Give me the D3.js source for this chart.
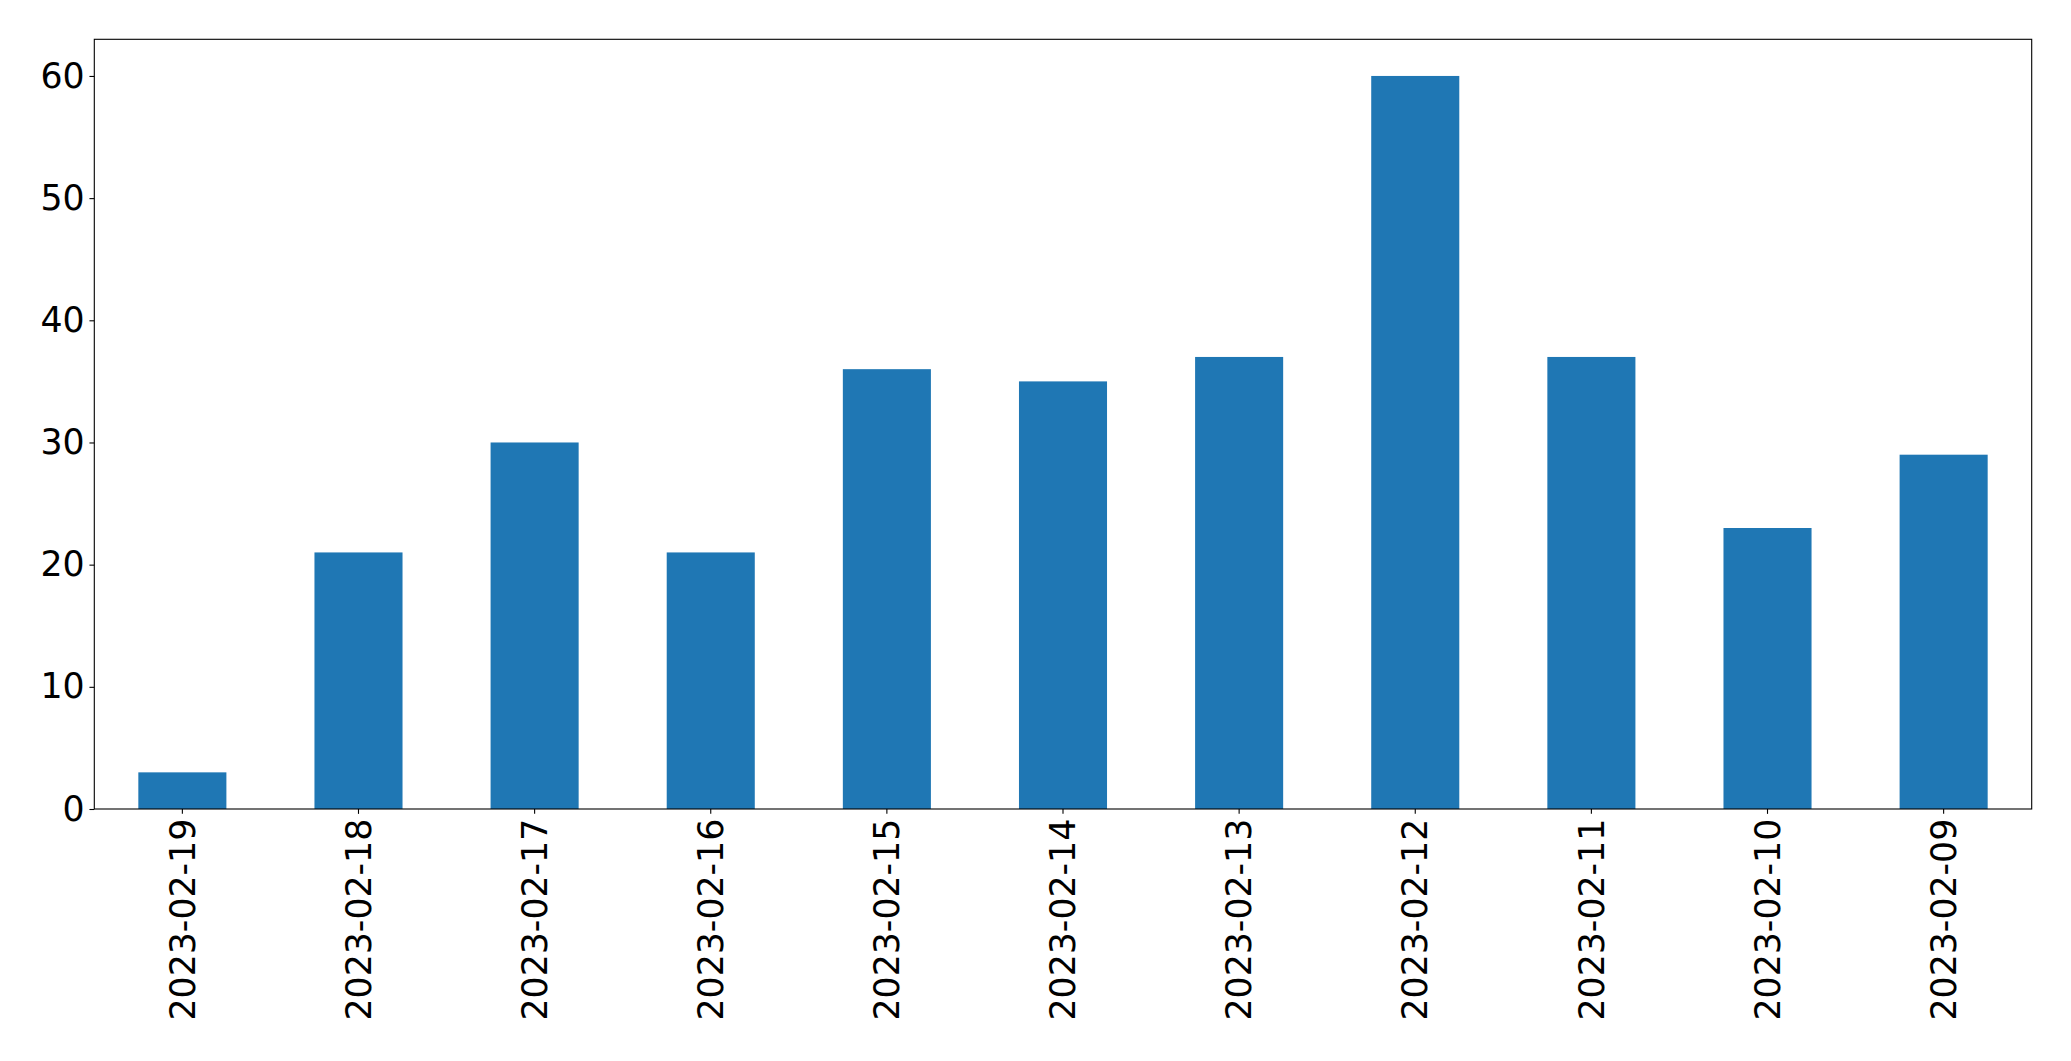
<!DOCTYPE html>
<html>
<head>
<meta charset="utf-8">
<script src="https://cdn.jsdelivr.net/npm/d3@7"></script>
<style>
  html, body { margin: 0; padding: 0; background: #fff; }
  svg { display: block; }
</style>
</head>
<body>
<svg id="chart" width="2071" height="1061"></svg>
<script>
const categories = ["2023-02-19","2023-02-18","2023-02-17","2023-02-16","2023-02-15","2023-02-14","2023-02-13","2023-02-12","2023-02-11","2023-02-10","2023-02-09"];
const values = [3, 21, 30, 21, 36, 35, 37, 60, 37, 23, 29];
const yTicks = [0, 10, 20, 30, 40, 50, 60];

const W = 2071, H = 1061;
const margin = { left: 94.3, right: 2071 - 2031.7, top: 39.3, bottom: 1061 - 809 };
const svg = d3.select("#chart");
const fontSize = 34.72;
const tickLen = 4.86, tickPad = 4.86;

const x = d3.scaleBand()
  .domain(categories)
  .range([margin.left, W - margin.right])
  .paddingInner(0.5)
  .paddingOuter(0.25);

const y = d3.scaleLinear()
  .domain([0, 63])
  .range([H - margin.bottom, margin.top]);

// bars
svg.append("g")
  .selectAll("rect")
  .data(values)
  .join("rect")
  .attr("x", (d, i) => x(categories[i]))
  .attr("width", x.bandwidth())
  .attr("y", d => y(d))
  .attr("height", d => y(0) - y(d))
  .attr("fill", "#1f77b4");

// y axis
const yAxis = svg.append("g")
  .attr("transform", `translate(${margin.left},0)`)
  .call(d3.axisLeft(y).tickValues(yTicks).tickSize(tickLen).tickPadding(tickPad).tickFormat(d3.format("d")));
yAxis.select(".domain").remove();
yAxis.selectAll("line").attr("stroke", "#000").attr("stroke-width", 1.1);
yAxis.selectAll("text")
  .attr("font-family", "DejaVu Sans")
  .attr("font-size", fontSize)
  .attr("fill", "#000");

// x axis
const xAxis = svg.append("g")
  .attr("transform", `translate(0,${H - margin.bottom})`)
  .call(d3.axisBottom(x).tickSize(tickLen).tickPadding(tickPad));
xAxis.select(".domain").remove();
xAxis.selectAll("line").attr("stroke", "#000").attr("stroke-width", 1.1);
xAxis.selectAll("text")
  .attr("font-family", "DejaVu Sans")
  .attr("font-size", fontSize)
  .attr("fill", "#000")
  .attr("transform", `translate(0,${tickLen + tickPad}) rotate(-90)`)
  .attr("x", 0)
  .attr("y", 0)
  .attr("dy", "0.35em")
  .attr("text-anchor", "end");

// frame
svg.append("rect")
  .attr("x", margin.left)
  .attr("y", margin.top)
  .attr("width", W - margin.right - margin.left)
  .attr("height", H - margin.bottom - margin.top)
  .attr("fill", "none")
  .attr("stroke", "#000")
  .attr("stroke-width", 1.1);
</script>
</body>
</html>
